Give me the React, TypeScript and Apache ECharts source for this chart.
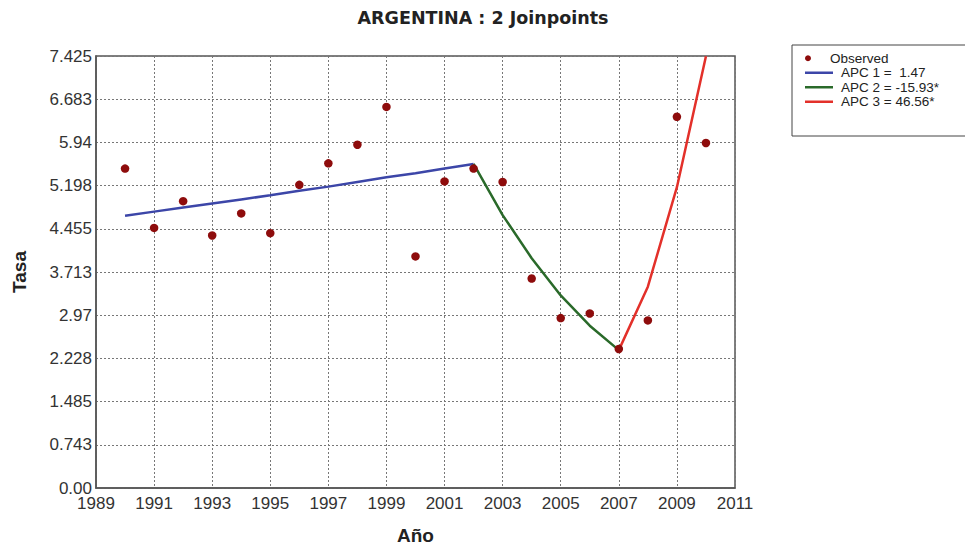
import React, { useEffect, useRef } from "react";
import * as echarts from "echarts";

const titleText = "ARGENTINA : 2 Joinpoints";
const xBase = 1989;
const xMaxYear = 2011;
const obsYears = [1990, 1991, 1992, 1993, 1994, 1995, 1996, 1997, 1998, 1999, 2000, 2001, 2002, 2003, 2004, 2005, 2006, 2007, 2008, 2009, 2010];
const observed = [5.49, 4.47, 4.93, 4.34, 4.72, 4.38, 5.21, 5.58, 5.9, 6.55, 3.98, 5.27, 5.49, 5.26, 3.6, 2.92, 3.0, 2.39, 2.88, 6.38, 5.93];
const apc1Years = [1990, 1991, 1992, 1993, 1994, 1995, 1996, 1997, 1998, 1999, 2000, 2001, 2002];
const apc1Values = [4.68, 4.75, 4.82, 4.89, 4.96, 5.03, 5.11, 5.18, 5.26, 5.34, 5.41, 5.49, 5.57];
const apc2Years = [2002, 2003, 2004, 2005, 2006, 2007];
const apc2Values = [5.57, 4.69, 3.95, 3.31, 2.79, 2.37];
const apc3Years = [2007, 2008, 2009, 2010];
const apc3Values = [2.37, 3.46, 5.17, 7.42];
const yTickLabels = ["0.00", "0.743", "1.485", "2.228", "2.97", "3.713", "4.455", "5.198", "5.94", "6.683", "7.425"];
const yStep = 0.7425;
const seriesNames = ["Observed", "APC 1 =  1.47", "APC 2 = -15.93*", "APC 3 = 46.56*"];

const pairs = (xs: number[], ys: number[]) => xs.map((x, i) => [x - xBase, ys[i]]);

export default function App() {
  const ref = useRef<HTMLDivElement>(null);
  useEffect(() => {
    if (!ref.current) return;
    const chart = echarts.init(ref.current, null, { renderer: "svg" });
    const font = "'Liberation Sans', Arial, sans-serif";
    const legendText = { fontFamily: font, fontSize: 13.5, color: "#222", lineHeight: 14.5, padding: [0, 0, 0, 3] };
    chart.setOption({
      animation: false,
      backgroundColor: "#ffffff",
      title: {
        text: titleText,
        left: 478,
        textAlign: "center",
        top: 4,
        textStyle: { fontFamily: "'DejaVu Sans', Verdana, sans-serif", fontWeight: "bold", fontSize: 17.5, color: "#222" },
      },
      grid: { left: 96, top: 56, right: 238, bottom: 62, show: true, borderColor: "#555", borderWidth: 1.5, backgroundColor: "transparent" },
      legend: [
        {
          orient: "vertical",
          left: 805,
          top: 51,
          itemWidth: 28,
          itemHeight: 6,
          itemGap: 0,
          padding: 0,
          icon: "circle",
          textStyle: legendText,
          data: [seriesNames[0]],
        },
        {
          orient: "vertical",
          left: 805,
          top: 65.5,
          itemWidth: 28,
          itemHeight: 2.5,
          itemGap: 0,
          padding: 0,
          icon: "rect",
          textStyle: legendText,
          data: [seriesNames[1], seriesNames[2], seriesNames[3]],
        },
      ],
      graphic: [
        { type: "rect", shape: { x: 792, y: 45, width: 260, height: 91 }, style: { fill: "none", stroke: "#444", lineWidth: 1 } },
      ],
      xAxis: {
        type: "value",
        min: 0,
        max: xMaxYear - xBase,
        interval: 2,
        name: "Año",
        nameLocation: "middle",
        nameGap: 38,
        nameTextStyle: { fontFamily: font, fontWeight: "bold", fontSize: 19, color: "#222" },
        axisLine: { show: true, lineStyle: { color: "#555", width: 1.5 } },
        axisTick: { show: false },
        axisLabel: { fontFamily: font, fontSize: 17, color: "#333", margin: 7, formatter: (v: number) => String(v + xBase) },
        splitLine: { show: true, lineStyle: { color: "#777", type: [2, 2], width: 1 } },
      },
      yAxis: {
        type: "value",
        min: 0,
        max: yStep * 10,
        interval: yStep,
        name: "Tasa",
        nameLocation: "middle",
        nameGap: 67,
        nameRotate: 90,
        nameTextStyle: { fontFamily: font, fontWeight: "bold", fontSize: 19, color: "#222" },
        axisLine: { show: true, lineStyle: { color: "#555", width: 1.5 } },
        axisTick: { show: false },
        axisLabel: {
          fontFamily: font,
          fontSize: 17,
          color: "#333",
          margin: 4,
          formatter: (v: number) => yTickLabels[Math.round(v / yStep)] ?? "",
        },
        splitLine: { show: true, lineStyle: { color: "#777", type: [2, 2], width: 1 } },
      },
      series: [
        {
          name: seriesNames[0],
          type: "scatter",
          data: pairs(obsYears, observed),
          symbol: "circle",
          symbolSize: 8.5,
          itemStyle: { color: "#8e0c0c", opacity: 1 },
          z: 5,
        },
        {
          name: seriesNames[1],
          type: "line",
          data: pairs(apc1Years, apc1Values),
          showSymbol: false,
          symbol: "none",
          lineStyle: { color: "#3c46a8", width: 2.5 },
          itemStyle: { color: "#3c46a8" },
          clip: true,
        },
        {
          name: seriesNames[2],
          type: "line",
          data: pairs(apc2Years, apc2Values),
          showSymbol: false,
          symbol: "none",
          lineStyle: { color: "#2a6a2a", width: 2.5 },
          itemStyle: { color: "#2a6a2a" },
          clip: true,
        },
        {
          name: seriesNames[3],
          type: "line",
          data: pairs(apc3Years, apc3Values),
          showSymbol: false,
          symbol: "none",
          lineStyle: { color: "#e3302a", width: 2.5 },
          itemStyle: { color: "#e3302a" },
          clip: true,
        },
      ],
    });
    return () => chart.dispose();
  }, []);
  return <div ref={ref} style={{ width: 973, height: 550, margin: -8 }} />;
}
